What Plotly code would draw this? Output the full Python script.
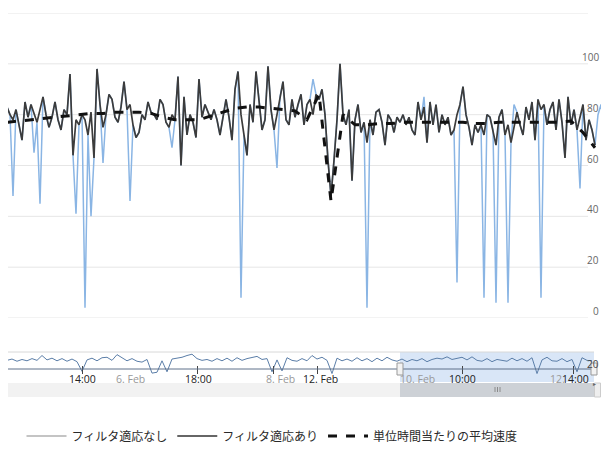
import pandas as pd
import plotly.graph_objects as go

# ---------------- data ----------------
FILTERED = [
    83, 80, 78, 82, 76, 70, 85, 79, 84, 80,
    77, 82, 87, 80, 75, 79, 85, 78, 74, 82,
    80, 96, 64, 78, 76, 80, 78, 72, 81, 63,
    98, 84, 75, 80, 88, 86, 79, 77, 83, 93,
    82, 84, 76, 71, 73, 80, 78, 85, 81, 80,
    78, 86, 84, 77, 75, 80, 78, 95, 60, 87,
    72, 80, 77, 71, 94, 79, 84, 81, 78, 82,
    78, 72, 80, 86, 79, 70, 90, 97, 80, 72,
    64, 84, 77, 97, 86, 74, 78, 99, 82, 74,
    80, 87, 93, 78, 76, 86, 79, 84, 88, 76,
    84, 86, 80, 88, 86, 90, 80, 62, 48, 62,
    78, 100, 80, 76, 82, 54, 78, 84, 73, 77,
    69, 78, 72, 81, 82, 77, 68, 80, 78, 73,
    79, 77, 80, 76, 79, 74, 72, 85, 78, 83,
    69, 85, 76, 84, 73, 80, 76, 79, 72, 74,
    80, 84, 91, 80, 75, 68, 76, 73, 76, 72,
    80, 79, 74, 68, 79, 82, 72, 76, 69, 75,
    81, 76, 72, 83, 78, 85, 70, 86, 82, 84,
    76, 82, 85, 74, 86, 77, 63, 87, 76, 82,
    74, 79, 84, 70, 78, 74, 68,
]

RAW = [
    83, 80, 48, 82, 76, 70, 85, 79, 84, 65,
    77, 45, 87, 80, 75, 79, 85, 78, 74, 82,
    80, 96, 64, 41, 76, 80, 4, 72, 40, 63,
    98, 84, 61, 80, 88, 86, 79, 77, 83, 93,
    82, 46, 76, 71, 73, 80, 78, 85, 81, 80,
    78, 86, 84, 77, 75, 67, 78, 95, 60, 87,
    72, 80, 77, 71, 94, 79, 84, 81, 78, 82,
    78, 72, 80, 86, 79, 70, 90, 97, 8, 72,
    64, 84, 77, 97, 86, 74, 78, 99, 82, 74,
    59, 87, 93, 78, 76, 86, 79, 84, 88, 76,
    84, 86, 94, 88, 86, 90, 80, 62, 48, 62,
    78, 100, 80, 76, 82, 54, 78, 84, 73, 77,
    4, 78, 72, 81, 82, 77, 68, 80, 78, 73,
    79, 77, 80, 76, 79, 74, 72, 85, 78, 87,
    69, 85, 76, 84, 73, 80, 76, 79, 72, 74,
    14, 84, 91, 80, 75, 68, 76, 73, 76, 8,
    80, 79, 74, 6, 79, 82, 72, 6, 69, 84,
    81, 76, 72, 83, 78, 85, 70, 86, 8, 84,
    76, 82, 85, 74, 86, 77, 63, 87, 76, 82,
    74, 51, 84, 70, 78, 74, 68, 80, 84, 76,
    85,
]

AVERAGE = [
    77, 77.5, 78, 78.5, 79, 79.5, 80, 80.5, 80.5, 81,
    81, 81, 80.5, 79, 78, 78, 78, 79.5, 81, 82.5,
    83, 83, 82.5, 82, 81.5, 78, 88, 46, 80, 76,
    76, 76.5, 76.5, 77, 77, 77, 77, 77, 77, 76.5,
    76.5, 77, 77, 77, 77, 77, 77, 77.5, 73, 67,
]

NAVIGATOR = [
    62, 68, 58, 66, 60, 70, 62, 84, 64, 72,
    60, 70, 58, 68, 56, 12, 64, 72, 60, 74,
    76, 62, 88, 72, 60, 70, 58, 54, 66, 4,
    8, 60, 10, 68, 72, 76, 84, 90, 70, 62,
    66, 58, 70, 60, 72, 58, 74, 62, 70, 76,
    80, 66, 70, 10, 64, 14, 74, 62, 58, 70,
    60, 84, 68, 76, 62, 2, 72, 60, 68, 58,
    74, 60, 70, 56, 72, 60, 76, 64, 58, 68,
    56, 66, 60, 70, 56, 66, 72, 68, 78, 66,
    70, 76, 64, 78, 62, 58, 70, 56, 66, 62,
    58, 72, 60, 70, 58, 74, 2, 64, 76, 60,
    58, 70, 56, 66, 10, 74, 62, 60,
]

Y_TICKS = [0, 20, 40, 60, 80, 100]
GRID_VALUES = [0, 20, 40, 60, 80, 100, 120]

NAV_LABELS = ["14:00", "6. Feb", "18:00", "8. Feb", "12. Feb", "10. Feb", "10:00", "12.", "14:00"]
NAV_LABEL_COLORS = ["#222", "#999", "#222", "#999", "#222", "#999", "#222", "#999", "#222"]

SERIES_NAMES = ["フィルタ適応なし", "フィルタ適応あり", "単位時間当たりの平均速度"]

# ---------------- layout helpers ----------------
# The page body has an 8px margin, so the figure is placed at (8, 8) of the window;
# keep it inside the 609x455 window (8 + 593 + 8 = 609, 8 + 439 + 8 = 455).
OFF = 8
W, H = 593, 439
L, R, T, B = 0, 0, 5, 49
PW, PH = W - L - R, H - T - B


def px(xr):
    """window x (reference pixel) -> paper x"""
    return (xr - OFF - L) / PW


def py(yr):
    """window y (reference pixel) -> paper y"""
    return (H - B - (yr - OFF)) / PH


t0 = pd.Timestamp("2013-02-10 08:00")
step = pd.Timedelta(minutes=2)
times = pd.date_range(t0, periods=len(RAW), freq="2min")
avg_times = times[::4][: len(AVERAGE)]
# sample i sits at window x = 7 + 3 i
x_start = t0 + step * ((OFF + L - 7) / 3.0)
x_end = t0 + step * ((OFF + L + PW - 7) / 3.0)

NAV_STEP_PX = 5
nav_x = list(range(len(NAVIGATOR)))
nav_tick_px = [82, 197, 273, 317, 462, 573]
nav_label_px = [82, 130, 198, 280, 320, 417, 462, 557, 575]

fig = go.Figure()

fig.add_trace(go.Scatter(x=times, y=RAW, mode="lines",
                         line=dict(color="#8ab5e4", width=1.5),
                         showlegend=False, hoverinfo="skip"))
fig.add_trace(go.Scatter(x=times[: len(FILTERED)], y=FILTERED, mode="lines",
                         line=dict(color="#3c3c3c", width=1.7),
                         showlegend=False, hoverinfo="skip"))
fig.add_trace(go.Scatter(x=avg_times, y=AVERAGE, mode="lines",
                         line=dict(color="#111111", width=3, dash="dash"),
                         showlegend=False, hoverinfo="skip"))

# navigator series
fig.add_trace(go.Scatter(x=nav_x, y=NAVIGATOR, mode="lines", xaxis="x2", yaxis="y2",
                         line=dict(color="#5b7ea8", width=1),
                         showlegend=False, hoverinfo="skip"))

# legend entries
legend_styles = [
    dict(color="#b0b0b0", width=1.5),
    dict(color="#333333", width=1.7),
    dict(color="#111111", width=3, dash="dash"),
]
for name, st in zip(SERIES_NAMES, legend_styles):
    fig.add_trace(go.Scatter(x=[None], y=[None], mode="lines", name=name, line=st))

shapes = []
for v in GRID_VALUES:
    shapes.append(dict(type="line", xref="paper", yref="y", x0=0, x1=px(588), y0=v, y1=v,
                       line=dict(color="#e6e6e6", width=1), layer="below"))

# navigator decorations
shapes += [
    dict(type="rect", xref="paper", yref="paper", x0=px(400), x1=px(594), y0=py(382), y1=py(352),
         fillcolor="rgba(120,165,225,0.28)", line=dict(width=0), layer="below"),
    dict(type="line", xref="paper", yref="paper", x0=0, x1=px(594), y0=py(352), y1=py(352),
         line=dict(color="#d8d8d8", width=1)),
    dict(type="line", xref="paper", yref="paper", x0=0, x1=px(594), y0=py(369), y1=py(369),
         line=dict(color="#5e718a", width=1)),
    dict(type="rect", xref="paper", yref="paper", x0=0, x1=px(594), y0=py(397), y1=py(383),
         fillcolor="#f2f2f2", line=dict(width=0)),
    dict(type="rect", xref="paper", yref="paper", x0=px(400), x1=px(594), y0=py(397), y1=py(383),
         fillcolor="#cdd1d6", line=dict(width=0)),
    dict(type="rect", xref="paper", yref="paper", x0=px(594.5), x1=px(600.5), y0=py(397), y1=py(383),
         fillcolor="#eeeeee", line=dict(color="#cccccc", width=1)),
    dict(type="rect", xref="paper", yref="paper", x0=px(397), x1=px(403), y0=py(375), y1=py(363),
         fillcolor="#f2f2f2", line=dict(color="#999999", width=1)),
    dict(type="rect", xref="paper", yref="paper", x0=px(591), x1=px(597), y0=py(375), y1=py(363),
         fillcolor="#f2f2f2", line=dict(color="#999999", width=1)),
]
for gx in (495, 497.5, 500):
    shapes.append(dict(type="line", xref="paper", yref="paper", x0=px(gx), x1=px(gx),
                       y0=py(392), y1=py(387), line=dict(color="#8a8a8a", width=1)))

annotations = []
for v in Y_TICKS:
    annotations.append(dict(x=1, xref="paper", y=v, yref="y", text=str(v), showarrow=False,
                            xanchor="right", yanchor="bottom", yshift=-2,
                            font=dict(family="Open Sans", size=10, color="#666666")))
annotations.append(dict(x=1, xref="paper", y=py(364), yref="paper", text="20", showarrow=False,
                        xanchor="right", yanchor="middle",
                        font=dict(family="Open Sans", size=10, color="#444444")))
for lab, col, xp in zip(NAV_LABELS, NAV_LABEL_COLORS, nav_label_px):
    annotations.append(dict(x=px(xp), xref="paper", y=py(379), yref="paper", text=lab,
                            showarrow=False, xanchor="center", yanchor="middle",
                            font=dict(family="Open Sans", size=10.5, color=col)))
annotations.append(dict(x=px(597.5), xref="paper", y=py(390), yref="paper", text="▸",
                        showarrow=False, font=dict(size=6, color="#666666")))

fig.update_layout(
    width=W, height=H,
    margin=dict(l=L, r=R, t=T, b=B, autoexpand=False),
    paper_bgcolor="white", plot_bgcolor="white",
    xaxis=dict(range=[x_start, x_end], visible=False, domain=[0, 1]),
    yaxis=dict(range=[0, 120], domain=[py(318), 1], visible=False),
    xaxis2=dict(range=[(OFF + L - 7) / NAV_STEP_PX, (594 - 7) / NAV_STEP_PX],
                domain=[0, px(594)], anchor="y2",
                showgrid=False, zeroline=False, showline=False, showticklabels=False,
                ticks="inside", ticklen=8, tickcolor="#444444", tickwidth=1,
                tickvals=[(p - 7) / NAV_STEP_PX for p in nav_tick_px]),
    yaxis2=dict(range=[0, 100], domain=[py(374), py(352)], visible=False, anchor="x2"),
    shapes=shapes,
    annotations=annotations,
    showlegend=True,
    legend=dict(orientation="h", x=px(272), xanchor="center", y=py(436), yanchor="middle",
                font=dict(family="Noto Sans CJK JP", size=12, color="#2a2a2a"),
                itemwidth=40, tracegroupgap=0, bgcolor="rgba(0,0,0,0)"),
)

fig.write_html("out.html")
